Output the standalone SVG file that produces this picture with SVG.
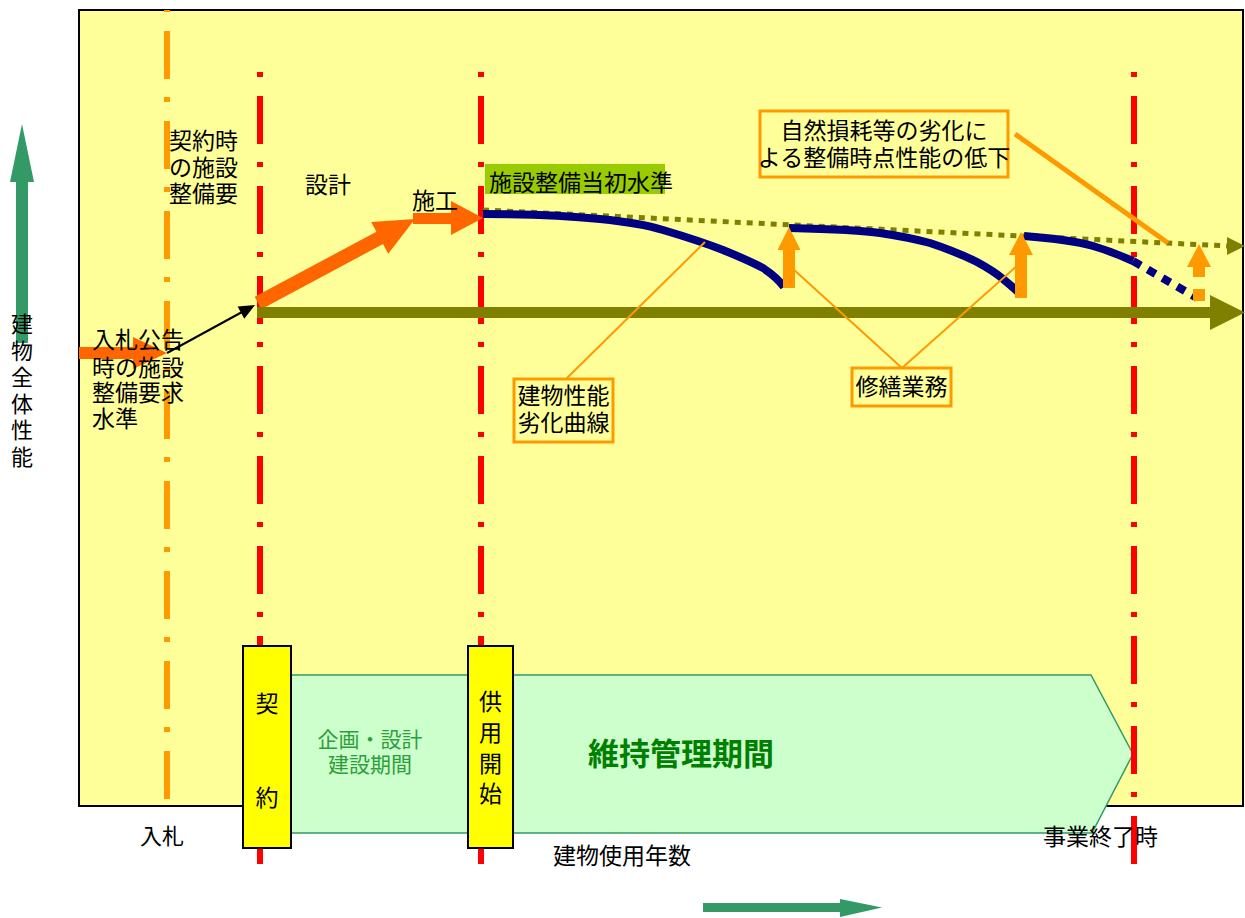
<svg xmlns="http://www.w3.org/2000/svg" width="1245" height="918" viewBox="0 0 1245 918">
<style>
text{font-family:"Noto Sans CJK JP","Noto Sans CJK SC",sans-serif;font-size:23px;fill:#000}
.red{stroke:#FF0000;stroke-width:6;stroke-dasharray:5 19 48 18;fill:none}
.call{fill:#FFFF99;stroke:#FF9900;stroke-width:3}
.lead{stroke:#FF9900;stroke-width:2;fill:none}
.navy{stroke:#000080;stroke-width:8;fill:none;stroke-linejoin:round}
.ybox{fill:#FFFF00;stroke:#000;stroke-width:2}
.up{fill:#FF9900}
</style>
<rect width="1245" height="918" fill="#FFFFFF"/>
<g id="frame">
<rect x="79" y="10" width="1164" height="796" fill="#FFFF99" stroke="#000" stroke-width="2"/>
</g>
<g id="band">
<polygon points="280,675 1091,675 1133,754 1092,833 280,833" fill="#CCFFCC" stroke="#339966" stroke-width="1.5"/>
</g>
<g id="milestones">
<line x1="167" y1="10" x2="167" y2="800" stroke="#FF9900" stroke-width="6" stroke-dasharray="5 19 48 18" stroke-dashoffset="3"/>
<line class="red" x1="260" y1="72" x2="260" y2="864"/>
<line class="red" x1="481" y1="72" x2="481" y2="864"/>
<line class="red" x1="1134" y1="72" x2="1134" y2="864"/>
</g>
<g id="connectors">
<polygon points="79,347 133,347 133,337 167,353 133,369 133,359 79,359" fill="#FF6600"/>
<line x1="167" y1="353" x2="243" y2="311.5" stroke="#000" stroke-width="2"/>
<polygon points="255,305 244.3,318.8 237.6,306.5" fill="#000"/>
<polygon points="254.7,296.8 376.4,231.7 371.2,222 415,219 388.2,253.8 383,244.1 261.3,309.2" fill="#FF6600"/>
<polygon points="413,213 451,213 451,201 483,218 451,235 451,224 413,224" fill="#FF6600"/>
<polygon points="257,307 1210,307 1210,295 1245,312.5 1210,330 1210,318 257,318" fill="#808000"/>
<line x1="483" y1="210" x2="1228" y2="246" stroke="#808000" stroke-width="5" stroke-dasharray="6 6"/>
<polygon points="1227,237 1245,246 1227,255" fill="#808000"/>
<path class="navy" d="M483,214 C530,214 570,216 600,219 C630,222 650,226 663,230 C690,238 705,243 723,250 C740,257 752,262 763,268 C772,274 779,280 784,287"/>
<path class="navy" d="M789,228 C830,229 860,230 880,233 C900,236 915,239 930,243 C948,249 963,255 977,262 C988,268 996,273 1003,279 C1009,284 1014,288 1019,293"/>
<path class="navy" d="M1024,236 C1050,238 1075,241 1093,246 C1110,251 1122,256 1133,261"/>
<path class="navy" d="M1133,261 L1197,298" stroke-dasharray="9 8"/>
<polygon class="up" points="789,227 800.5,250 795,250 795,288 783,288 783,250 777.5,250"/>
<polygon class="up" points="1021,232 1033,255 1027,255 1027,298 1015,298 1015,255 1009,255"/>
<polygon class="up" points="1199,244 1211,267 1205,267 1205,277 1193,277 1193,267 1187,267"/>
<rect class="up" x="1193" y="289" width="12" height="12"/>
<line x1="1015" y1="134" x2="1168" y2="243" stroke="#FF9900" stroke-width="5"/>
<line class="lead" x1="566" y1="379" x2="705" y2="242"/>
<line class="lead" x1="902" y1="368" x2="792" y2="268"/>
<line class="lead" x1="902" y1="368" x2="1018" y2="265"/>
</g>
<g id="axis-y">
<polygon points="16,182 16,343 28,343 28,182 34,182 22,124 10,182" fill="#339966"/>
<text font-size="22" text-anchor="middle" style="font-size:22px"><tspan x="22" y="332">建</tspan><tspan x="22" y="358.5">物</tspan><tspan x="22" y="385">全</tspan><tspan x="22" y="411.5">体</tspan><tspan x="22" y="438">性</tspan><tspan x="22" y="464.5">能</tspan></text>
</g>
<g id="axis-x">
<polygon points="703,903 840,903 840,899 882,907.5 840,917 840,912 703,912" fill="#339966"/>
<text x="553" y="864">建物使用年数</text>
</g>
<g id="label-bid-notice">
<text><tspan x="92" y="348">入札公告</tspan><tspan x="92" y="375.5">時の施設</tspan><tspan x="92" y="401">整備要求</tspan><tspan x="92" y="427">水準</tspan></text>
</g>
<g id="label-contract-req">
<text><tspan x="169" y="149">契約時</tspan><tspan x="169" y="175.5">の施設</tspan><tspan x="169" y="202">整備要</tspan></text>
</g>
<g id="label-design"><text x="305" y="193">設計</text></g>
<g id="label-construction"><text x="412" y="209">施工</text></g>
<g id="label-initial-level">
<rect x="485" y="164" width="180" height="30" fill="#99CC00"/>
<text x="489" y="190.5">施設整備当初水準</text>
</g>
<g id="callout-wear">
<rect class="call" x="760" y="111" width="248" height="66"/>
<text text-anchor="middle"><tspan x="884" y="139">自然損耗等の劣化に</tspan><tspan x="884" y="166">よる整備時点性能の低下</tspan></text>
</g>
<g id="callout-curve">
<rect class="call" x="514" y="379" width="99" height="63"/>
<text text-anchor="middle"><tspan x="563.5" y="404">建物性能</tspan><tspan x="563.5" y="431">劣化曲線</tspan></text>
</g>
<g id="callout-repair">
<rect class="call" x="852" y="368" width="99" height="38"/>
<text x="901.5" y="395" text-anchor="middle">修繕業務</text>
</g>
<g id="box-contract">
<rect class="ybox" x="243" y="646" width="48" height="202"/>
<text text-anchor="middle"><tspan x="267" y="712">契</tspan><tspan x="267" y="805.5">約</tspan></text>
</g>
<g id="box-start">
<rect class="ybox" x="468" y="646" width="45" height="202"/>
<text text-anchor="middle"><tspan x="490.5" y="710">供</tspan><tspan x="490.5" y="741">用</tspan><tspan x="490.5" y="772">開</tspan><tspan x="490.5" y="802">始</tspan></text>
</g>
<g id="label-planning">
<text text-anchor="middle" style="fill:#2E9E3A;font-size:21px"><tspan x="370" y="747">企画・設計</tspan><tspan x="370" y="772">建設期間</tspan></text>
</g>
<g id="label-maintenance">
<text x="588" y="765" style="fill:#008000;font-size:31px;font-weight:bold">維持管理期間</text>
</g>
<g id="label-bid"><text x="140" y="844" style="font-size:22px">入札</text></g>
<g id="label-end"><text x="1043" y="845">事業終了時</text></g>
</svg>
